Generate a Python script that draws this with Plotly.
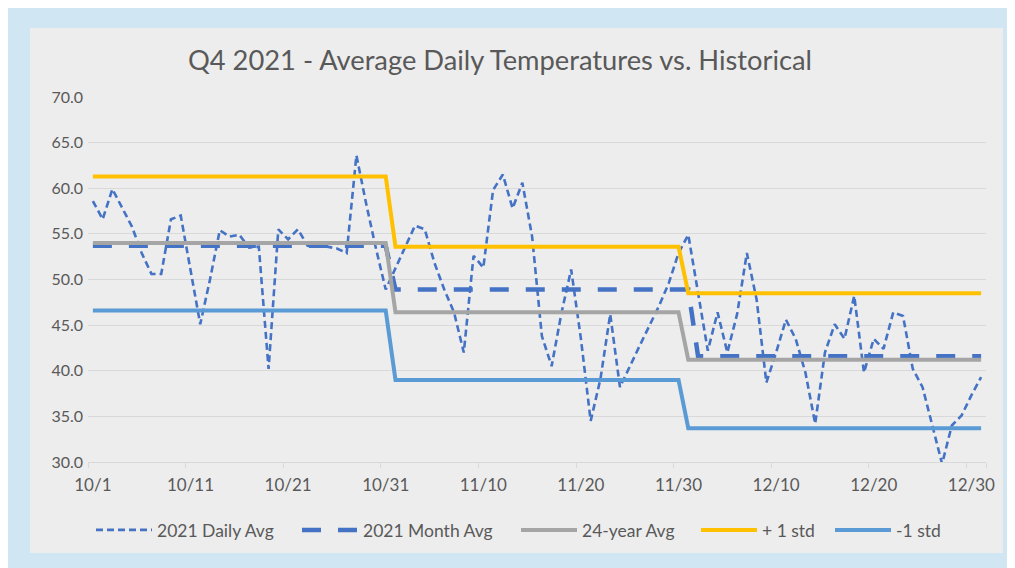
import plotly.graph_objects as go
import pandas as pd

dates = pd.date_range("2021-10-01", "2021-12-31", freq="D")

daily_avg = [
    58.6, 56.6, 59.9, 57.8, 55.8, 52.9, 50.6, 50.6, 56.6, 57.0,
    51.1, 45.1, 50.0, 55.4, 54.7, 54.9, 53.5, 53.6, 40.2, 55.5,
    54.4, 55.5, 53.7, 53.6, 53.6, 53.4, 52.9, 63.6, 58.3, 53.4,
    48.9,
    51.3, 53.6, 55.9, 55.5, 51.8, 48.9, 46.4, 42.0, 52.6, 51.3,
    59.8, 61.5, 57.8, 60.6, 54.7, 43.8, 40.5, 46.3, 51.1, 43.5,
    34.5, 39.1, 46.2, 38.2, 40.5, 42.7, 44.9, 47.1, 49.6, 52.9,
    54.9, 48.6, 42.2, 46.4, 42.0, 46.2, 52.9, 47.8, 38.7, 42.0,
    45.6, 43.5, 39.8, 34.2, 42.0, 45.1, 43.5, 48.2, 39.8, 43.5,
    42.4, 46.4, 46.0, 40.2, 38.2, 34.0, 29.8, 34.0, 35.1, 37.3,
    39.3,
]

month_avg_by_month = {"Oct": 53.7, "Nov": 48.9, "Dec": 41.6}
hist_avg_by_month = {"Oct": 54.0, "Nov": 46.4, "Dec": 41.2}
plus_std_by_month = {"Oct": 61.3, "Nov": 53.6, "Dec": 48.5}
minus_std_by_month = {"Oct": 46.6, "Nov": 39.0, "Dec": 33.7}

month_keys = [d.strftime("%b") for d in dates]
# the 2021 monthly-average series switches to December one day late in the source
month_keys_shifted = ["Nov" if (d.month == 12 and d.day == 1) else k for d, k in zip(dates, month_keys)]

month_avg = [month_avg_by_month[k] for k in month_keys_shifted]
hist_avg = [hist_avg_by_month[k] for k in month_keys]
plus_std = [plus_std_by_month[k] for k in month_keys]
minus_std = [minus_std_by_month[k] for k in month_keys]

tick_dates = pd.date_range("2021-10-01", periods=10, freq="10D")
tick_labels = [f"{d.month}/{d.day}" for d in tick_dates]
minor_ticks = [d - pd.Timedelta(hours=12) for d in tick_dates] + [pd.Timestamp("2021-12-31 12:00")]

series_names = ["2021 Daily Avg", "2021 Month Avg", "24-year Avg", "+ 1 std", "-1 std"]

FONT = "Lato, Liberation Sans, sans-serif"
TXT = "#595959"

W, H = 1007, 560
L, R, T, B = 80, 29, 89, 106
pw, ph = W - L - R, H - T - B

def px_x(p):
    return (p - L) / pw

def px_y(p):
    return (H - B - p) / ph

fig = go.Figure()
styles = [
    dict(color="#4472C4", width=2.6, dash="7px,4px"),
    dict(color="#4472C4", width=4.5, dash="19px,17px"),
    dict(color="#A5A5A5", width=4),
    dict(color="#FFC000", width=4),
    dict(color="#5B9BD5", width=4),
]
values = [daily_avg, month_avg, hist_avg, plus_std, minus_std]
legend_ids = ["legend", "legend2", "legend3", "legend4", "legend5"]
# left edge (figure px) of each legend symbol
legend_sym_x = [88, 294, 513, 693, 827]

for name, vals, st, lg in zip(series_names, values, styles, legend_ids):
    fig.add_trace(go.Scatter(x=dates, y=vals, mode="lines", name=name,
                             line=st, legend=lg, showlegend=True))

fig.add_shape(type="rect", xref="paper", yref="paper", layer="below",
              x0=px_x(22), x1=px_x(995), y0=px_y(545), y1=px_y(20),
              fillcolor="#EDEDED", line=dict(width=0))

legend_common = dict(orientation="h", yanchor="middle", y=px_y(522), xanchor="left",
                     font=dict(family=FONT, size=17.5, color=TXT), bgcolor="rgba(0,0,0,0)",
                     itemwidth=56, borderwidth=0, visible=True)
legends = {}
for lg, sx in zip(legend_ids, legend_sym_x):
    legends[lg] = dict(legend_common, x=px_x(sx - 5))

fig.update_layout(
    width=W, height=H,
    showlegend=True,
    margin=dict(l=L, r=R, t=T, b=B),
    paper_bgcolor="#D0E6F3",
    plot_bgcolor="rgba(0,0,0,0)",
    font=dict(family=FONT, color=TXT, size=16),
    title=dict(text="Q4 2021 - Average Daily Temperatures vs. Historical",
               xref="container", x=492 / W, xanchor="center",
               yref="container", y=1 - 52 / H, yanchor="middle",
               font=dict(family=FONT, size=27.3, color=TXT)),
    xaxis=dict(
        type="date",
        range=["2021-09-30 12:00", "2021-12-31 12:00"],
        tickmode="array", tickvals=tick_dates, ticktext=tick_labels,
        ticks="", showgrid=False,
        showline=True, linecolor="#D9D9D9", linewidth=1,
        tickfont=dict(family=FONT, size=17, color=TXT),
        ticklabelstandoff=8,
        minor=dict(tickmode="array", tickvals=minor_ticks, ticks="outside",
                   ticklen=5, tickcolor="#D9D9D9", showgrid=False),
        zeroline=False,
    ),
    yaxis=dict(
        range=[30, 70], tickmode="array", tickvals=[30, 35, 40, 45, 50, 55, 60, 65, 70],
        tickformat=".1f", showgrid=True, gridcolor="#D9D9D9", gridwidth=1,
        zeroline=False, showline=False, ticks="",
        tickfont=dict(family=FONT, size=16, color=TXT),
        ticklabelstandoff=4,
    ),
    **legends,
)

fig.write_html("out.html")
